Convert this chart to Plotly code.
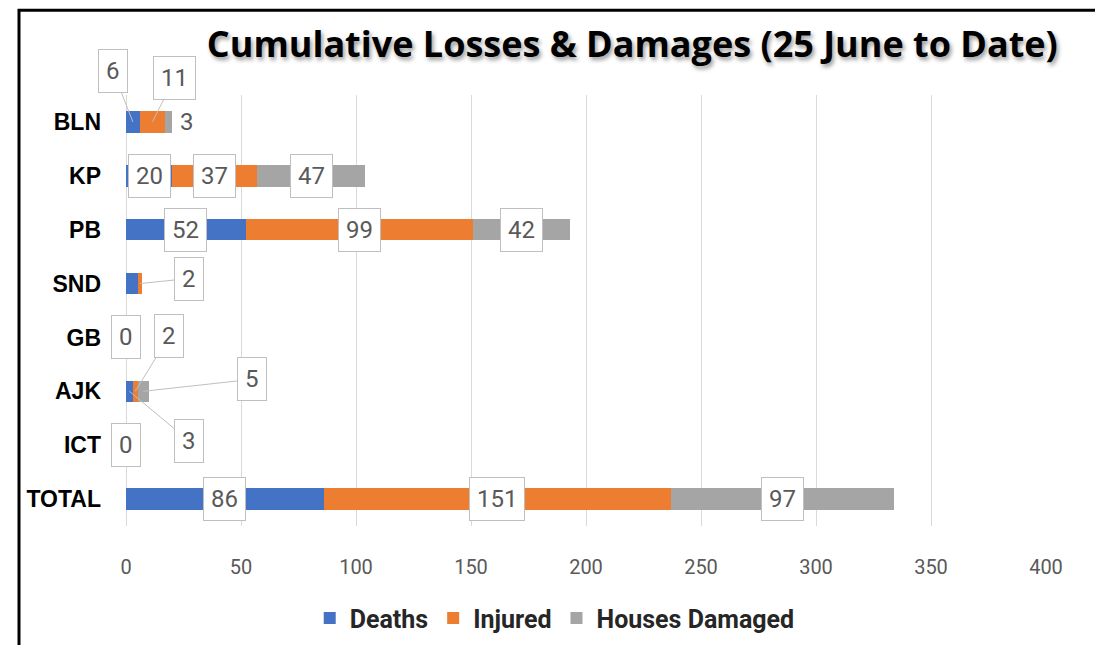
import plotly.graph_objects as go

categories = ["BLN", "KP", "PB", "SND", "GB", "AJK", "ICT", "TOTAL"]
deaths = [6, 20, 52, 5, 0, 3, 0, 86]
injured = [11, 37, 99, 2, 0, 2, 0, 151]
houses = [3, 47, 42, 0, 0, 5, 0, 97]
x_ticks = [0, 50, 100, 150, 200, 250, 300, 350, 400]

series = [("Deaths", deaths, "#4472C4"),
          ("Injured", injured, "#ED7D31"),
          ("Houses Damaged", houses, "#A5A5A5")]

fig = go.Figure()
for name, vals, col in series:
    fig.add_trace(go.Bar(y=categories, x=vals, name=name, orientation="h",
                         marker=dict(color=col, line=dict(width=0))))

lab_font = dict(family="Roboto, sans-serif", size=24, color="#595959")
box = dict(font=lab_font, bgcolor="white", bordercolor="#BFBFBF", borderwidth=1, borderpad=7)
lead = dict(arrowcolor="#BFBFBF", arrowwidth=1, arrowhead=0)

callouts = {
    ("BLN", 0): (-20, -51),
    ("BLN", 1): (22, -44),
    ("BLN", 2): "right",
    ("SND", 0): "skip",
    ("SND", 1): (49, -5),
    ("SND", 2): "skip",
    ("GB", 1): "skip", ("GB", 2): "skip",
    ("AJK", 0): (60, 50),
    ("AJK", 1): (34, -55),
    ("AJK", 2): (109, -12),
    ("ICT", 1): "skip", ("ICT", 2): "skip",
}

anns = []
for i, cat in enumerate(categories):
    base = 0
    for s, (name, vals, col) in enumerate(series):
        v = vals[i]
        mid = base + v / 2
        spec = callouts.get((cat, s))
        if spec == "skip":
            pass
        elif spec == "right":
            total = deaths[i] + injured[i] + houses[i]
            anns.append(dict(x=total, y=cat, text=str(v), showarrow=False, xanchor="left", xshift=6,
                             font=lab_font))
        elif isinstance(spec, tuple):
            anns.append(dict(x=mid, y=cat, text=str(v), showarrow=True, ax=spec[0], ay=spec[1], **box, **lead))
        else:
            anns.append(dict(x=mid, y=cat, text=str(v), showarrow=False, **box))
        base += v

fig.update_layout(
    barmode="stack",
    bargap=0.6,
    width=1103, height=645,
    margin=dict(l=118, r=65, t=87, b=123),
    paper_bgcolor="white", plot_bgcolor="white",
    title=dict(text="<b>Cumulative Losses &amp; Damages (25 June to Date)</b>",
               x=0.566, xanchor="center", y=0.943, yanchor="middle",
               font=dict(family="Open Sans, sans-serif", size=36, color="black",
                         shadow="2px 3px 4px #9a9a9a")),
    xaxis=dict(range=[0, 400], tickvals=x_ticks, showgrid=True, gridcolor="#D9D9D9", gridwidth=1,
               zeroline=True, zerolinecolor="#D9D9D9", zerolinewidth=1, showline=False,
               ticklabelstandoff=27,
               tickfont=dict(family="Roboto, sans-serif", size=20, color="#595959"),
               fixedrange=True),
    yaxis=dict(autorange="reversed", showgrid=False, showline=False, ticks="",
               ticklabelstandoff=24,
               tickfont=dict(family="Liberation Sans, Arial, sans-serif", size=23, color="black",
                             weight="bold")),
    legend=dict(orientation="h", x=0.466, xanchor="center", y=-0.214, yanchor="middle",
                font=dict(family="Roboto, sans-serif", size=25, color="#262626", weight="bold"),
                itemwidth=30, traceorder="normal"),
    annotations=anns,
    shapes=[dict(type="rect", xref="paper", yref="paper",
                 x0=(11 - 118) / 920, x1=(1091 - 118) / 920,
                 y0=(522 - 660) / 435, y1=(522 - 1.5) / 435,
                 line=dict(color="black", width=3), fillcolor="rgba(0,0,0,0)", layer="above")],
)

fig.write_html("out.html")
